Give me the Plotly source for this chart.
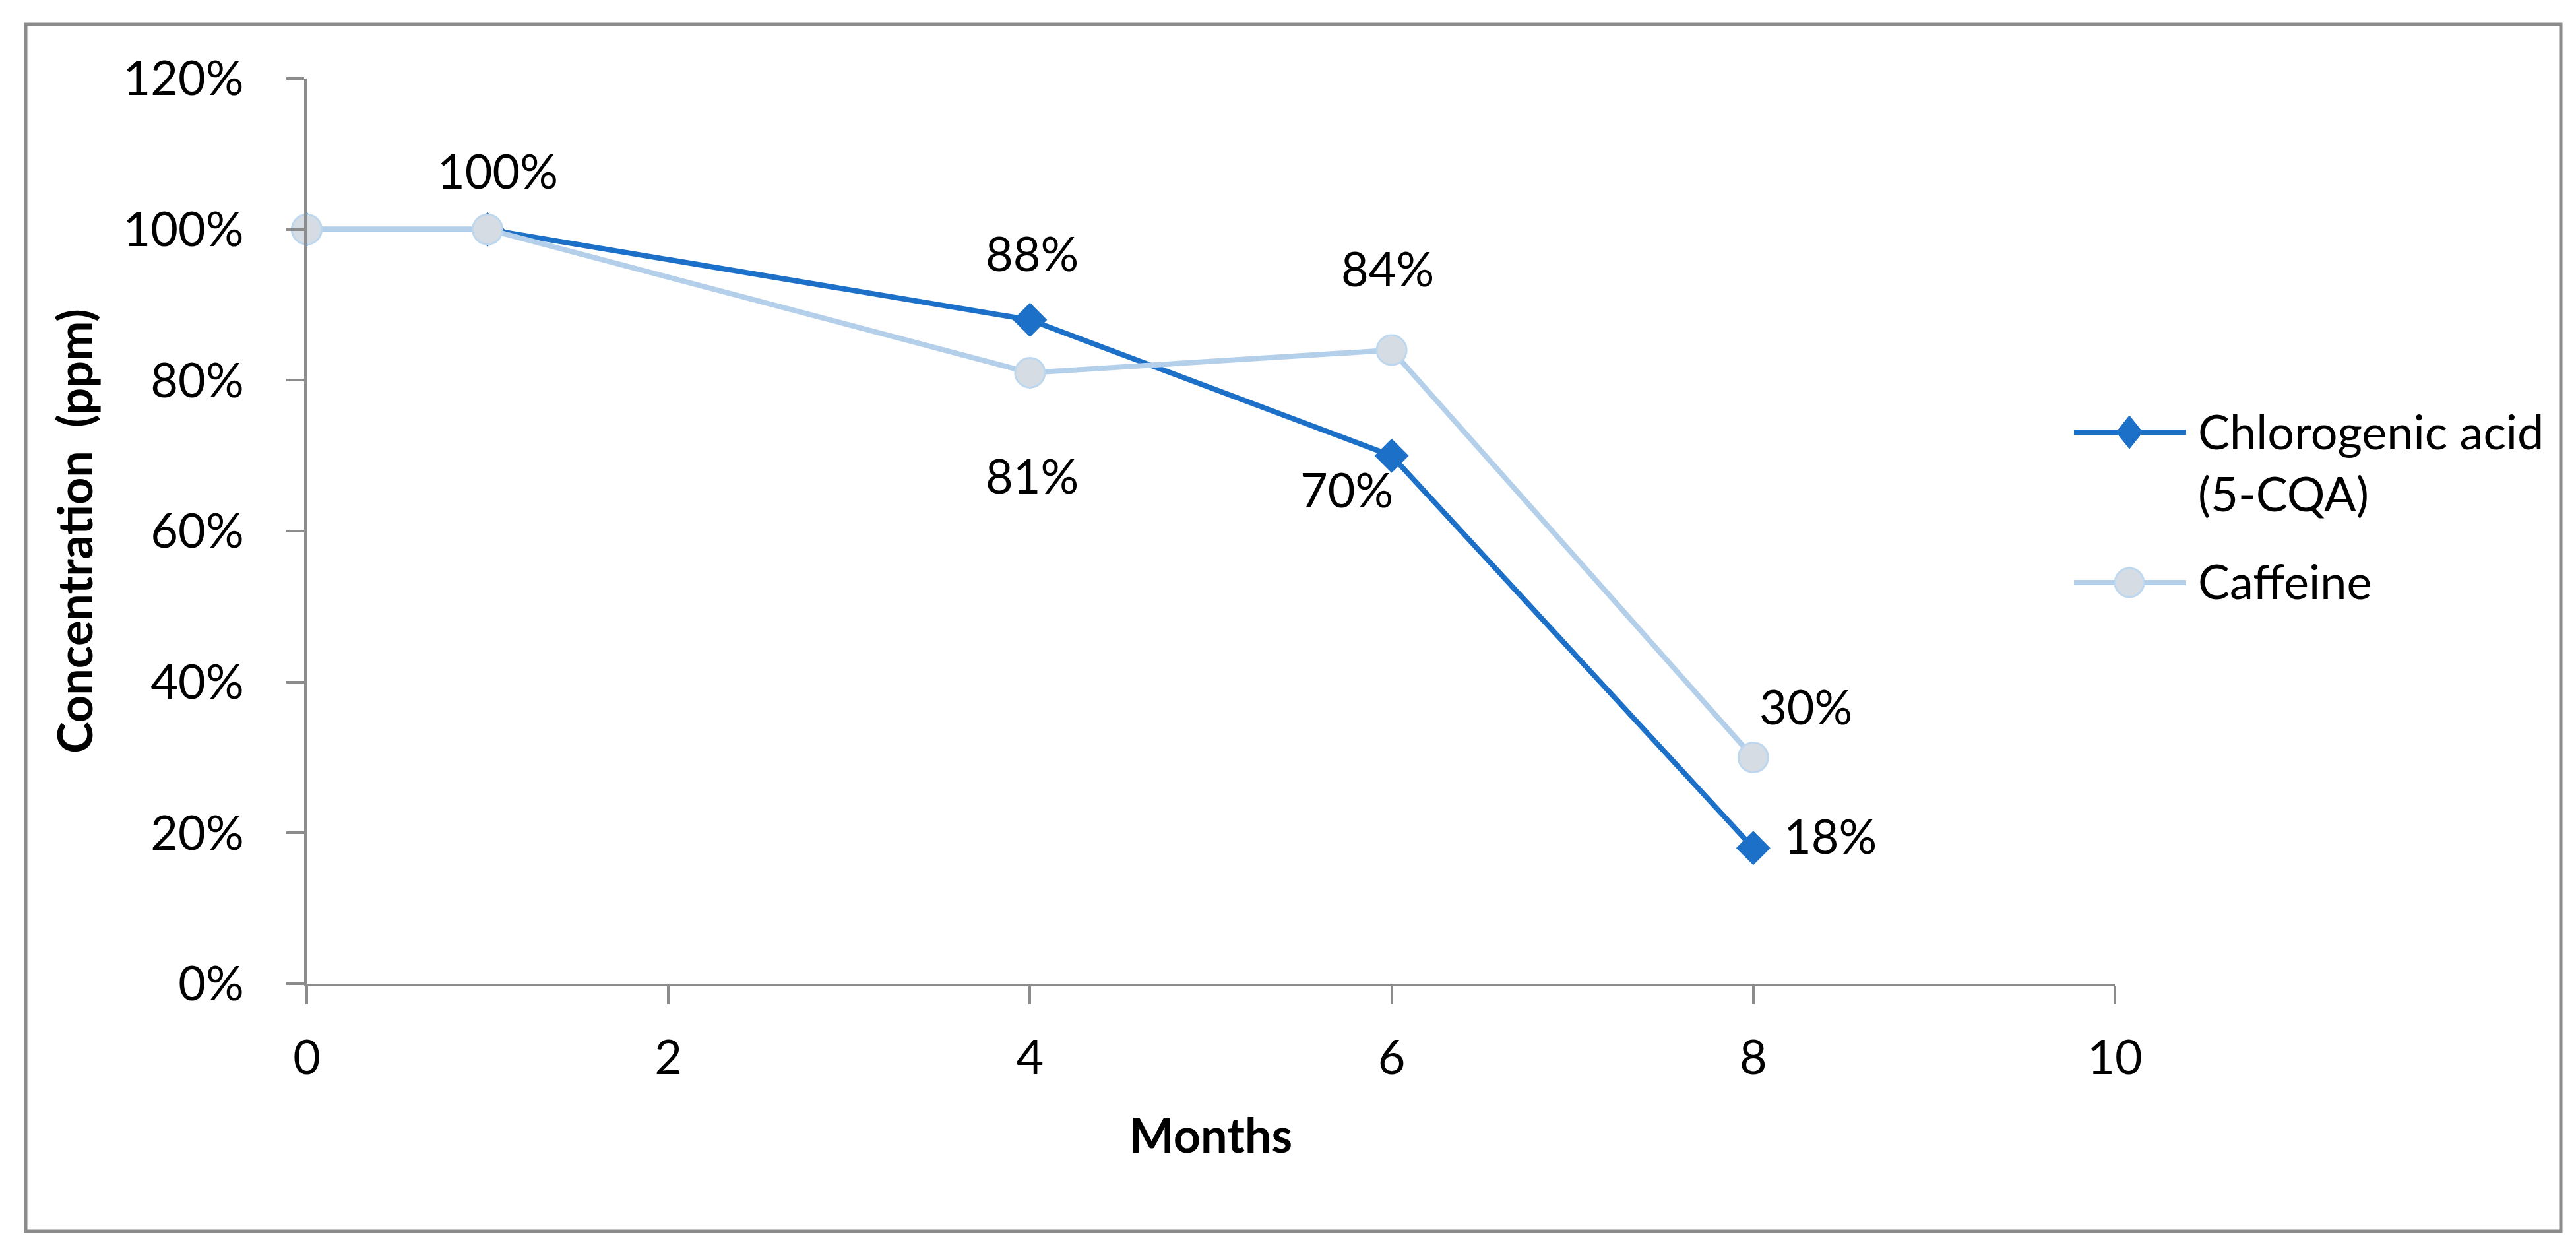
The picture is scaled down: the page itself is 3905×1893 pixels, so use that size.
import plotly.graph_objects as go

# ---------------- data ----------------
months = [0, 1, 4, 6, 8]
chlorogenic = [1.00, 1.00, 0.88, 0.70, 0.18]
caffeine = [1.00, 1.00, 0.81, 0.84, 0.30]
series_names = ["Chlorogenic acid<br>(5-CQA)", "Caffeine"]
x_ticks = [0, 2, 4, 6, 8, 10]
y_ticks = [0, 0.2, 0.4, 0.6, 0.8, 1.0, 1.2]
y_tick_text = ["0%", "20%", "40%", "60%", "80%", "100%", "120%"]
x_title = "Months"
y_title = "Concentration  (ppm)"

# which points carry a data label, and pixel offsets of each label (style)
chl_labels = {1: (15, 90), 2: (3, 102), 3: (-68, -50), 4: (117, 19)}
caf_labels = {2: (3, -155), 3: (-6, 125), 4: (80, 78)}

# ---------------- style ----------------
W, H = 3905, 1893
L, R, T, B = 457, 3198, 111, 1483
FONT = "Lato, 'Open Sans', sans-serif"
FS = 72
AX = "#8c8c8c"
BLUE = "#1c70c8"
LIGHT = "#b4cfe9"
CIRC_FILL = "#d6dce4"
CIRC_LINE = "#bdd7ee"


def px(xp):
    return (xp - L) / (R - L)


def py(yp):
    return (B - yp) / (B - T)


fig = go.Figure()
fig.add_trace(go.Scatter(
    x=months, y=chlorogenic, mode="lines+markers", name=series_names[0],
    line=dict(color=BLUE, width=8),
    marker=dict(symbol="diamond", size=40, color=BLUE, line=dict(width=0)),
    showlegend=False, cliponaxis=False))
fig.add_trace(go.Scatter(
    x=months, y=caffeine, mode="lines+markers", name=series_names[1],
    line=dict(color=LIGHT, width=8),
    marker=dict(symbol="circle", size=45, color=CIRC_FILL,
                line=dict(color=CIRC_LINE, width=3)),
    showlegend=False, cliponaxis=False))

annotations = []
for xs, ys, labs in ((months, chlorogenic, chl_labels), (months, caffeine, caf_labels)):
    for i, (dx, dy) in labs.items():
        annotations.append(dict(
            x=xs[i], y=ys[i], xref="x", yref="y", text=f"{ys[i]*100:.0f}%",
            showarrow=False, xshift=dx, yshift=dy,
            font=dict(family=FONT, size=FS, color="black")))

# custom legend (Excel-like long keys)
shapes = [
    dict(type="rect", xref="paper", yref="paper",
         x0=px(31), x1=px(3874), y0=py(1858), y1=py(29),
         line=dict(color=AX, width=5), layer="below"),
    dict(type="line", xref="paper", yref="paper",
         x0=px(3136), x1=px(3306), y0=py(647), y1=py(647),
         line=dict(color=BLUE, width=8)),
    dict(type="path", xref="paper", yref="paper",
         path=(f"M{px(3220)},{py(647-25)} L{px(3240)},{py(647)} "
               f"L{px(3220)},{py(647+25)} L{px(3200)},{py(647)} Z"),
         fillcolor=BLUE, line=dict(color=BLUE, width=1)),
    dict(type="line", xref="paper", yref="paper",
         x0=px(3136), x1=px(3306), y0=py(875), y1=py(875),
         line=dict(color=LIGHT, width=8)),
    dict(type="circle", xref="paper", yref="paper",
         x0=px(3220-22), x1=px(3220+22), y0=py(875+22), y1=py(875-22),
         fillcolor=CIRC_FILL, line=dict(color=CIRC_LINE, width=3)),
]
annotations.append(dict(
    x=px(3322), y=py(600), xref="paper", yref="paper", xanchor="left",
    yanchor="top", align="left", text=series_names[0], showarrow=False,
    font=dict(family=FONT, size=FS, color="black")))
annotations.append(dict(
    x=px(3322), y=py(872), xref="paper", yref="paper", xanchor="left",
    yanchor="middle", align="left", text=series_names[1], showarrow=False,
    font=dict(family=FONT, size=FS, color="black")))

fig.update_layout(
    width=W, height=H,
    margin=dict(l=L, r=W - R, t=T, b=H - B, autoexpand=False),
    paper_bgcolor="white", plot_bgcolor="white",
    font=dict(family=FONT, size=FS, color="black"),
    showlegend=False,
    shapes=shapes, annotations=annotations,
    xaxis=dict(range=[0, 10], tickvals=x_ticks, ticktext=[str(v) for v in x_ticks],
               showgrid=False, zeroline=False, showline=True, linecolor=AX,
               linewidth=4, ticks="outside", ticklen=27, tickwidth=4, tickcolor=AX,
               ticklabelstandoff=20,
               tickfont=dict(family=FONT, size=FS, color="black"),
               title=dict(text=f"<b>{x_title}</b>", standoff=55,
                          font=dict(family=FONT, size=FS, color="black")),
               automargin=False),
    yaxis=dict(range=[0, 1.2], tickvals=y_ticks, ticktext=y_tick_text,
               showgrid=False, zeroline=False, showline=True, linecolor=AX,
               linewidth=4, ticks="outside", ticklen=27, tickwidth=4, tickcolor=AX,
               ticklabelstandoff=50,
               tickfont=dict(family=FONT, size=FS, color="black"),
               title=dict(text=f"<b>{y_title}</b>", standoff=23,
                          font=dict(family=FONT, size=FS, color="black")),
               automargin=False),
)

fig.write_html("out.html")
